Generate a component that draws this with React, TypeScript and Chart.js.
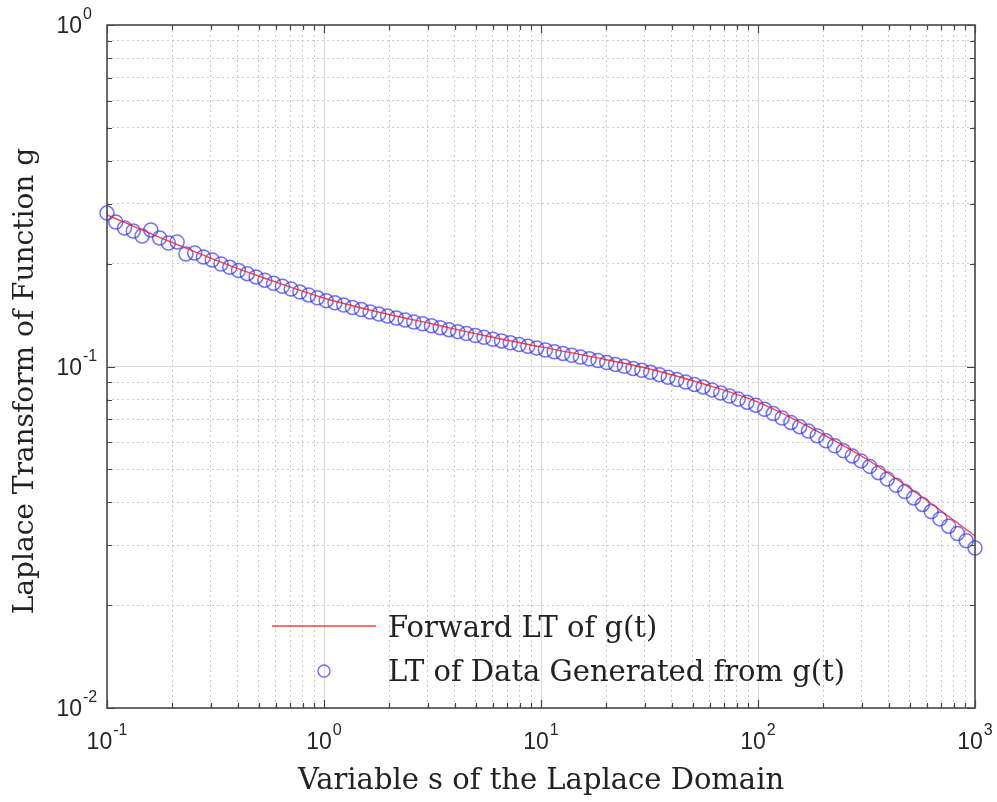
import { useEffect, useRef } from "react";
import { Chart, registerables } from "chart.js";

Chart.register(...registerables);

// s values (Laplace variable) of the sampled data, log-spaced from 0.1 to 1000
const sValues = [
  0.1, 0.10975, 0.12045, 0.13219, 0.14508, 0.15923, 0.17475, 0.19179, 0.21049, 0.23101,
  0.25354, 0.27826, 0.30539, 0.33516, 0.36784, 0.4037, 0.44306, 0.48626, 0.53367, 0.5857,
  0.64281, 0.70548, 0.77426, 0.84975, 0.9326, 1.0235, 1.1233, 1.2328, 1.353, 1.485,
  1.6298, 1.7886, 1.963, 2.1544, 2.3645, 2.595, 2.848, 3.1257, 3.4305, 3.7649,
  4.132, 4.5349, 4.977, 5.4623, 5.9948, 6.5793, 7.2208, 7.9248, 8.6975, 9.5455,
  10.476, 11.498, 12.619, 13.849, 15.199, 16.681, 18.307, 20.092, 22.051, 24.201,
  26.561, 29.151, 31.993, 35.112, 38.535, 42.292, 46.416, 50.941, 55.908, 61.359,
  67.342, 73.907, 81.113, 89.022, 97.701, 107.23, 117.68, 129.15, 141.75, 155.57,
  170.74, 187.38, 205.65, 225.7, 247.71, 271.86, 298.37, 327.46, 359.38, 394.42,
  432.88, 475.08, 521.4, 572.24, 628.03, 689.26, 756.46, 830.21, 911.16, 1000,
];

// LT of data generated from g(t) (blue circles)
const dataValues = [
  0.2814, 0.2649, 0.2544, 0.2493, 0.241, 0.251, 0.2378, 0.2299, 0.2315, 0.2135,
  0.215, 0.2093, 0.205, 0.1996, 0.1952, 0.191, 0.187, 0.1829, 0.179, 0.1752,
  0.1718, 0.1685, 0.1652, 0.162, 0.1589, 0.1559, 0.1537, 0.1513, 0.1489, 0.1468,
  0.1445, 0.1424, 0.1405, 0.1386, 0.1369, 0.135, 0.1334, 0.1316, 0.1299, 0.1282,
  0.1265, 0.1249, 0.1232, 0.1217, 0.1202, 0.1188, 0.1173, 0.1159, 0.1146, 0.1132,
  0.1118, 0.1105, 0.1092, 0.1079, 0.1066, 0.1053, 0.1041, 0.1027, 0.1014, 0.1001,
  0.09872, 0.09747, 0.09616, 0.09462, 0.09305, 0.09154, 0.09008, 0.08863, 0.08715, 0.08541,
  0.08364, 0.08196, 0.08026, 0.07861, 0.07704, 0.07494, 0.07279, 0.07067, 0.0686, 0.06664,
  0.06469, 0.06268, 0.06059, 0.05859, 0.05664, 0.05473, 0.05292, 0.05099, 0.04887, 0.04684,
  0.04489, 0.04302, 0.04123, 0.03946, 0.03759, 0.03579, 0.03407, 0.03243, 0.03089, 0.02941,
];

// Forward LT of g(t) (red line)
const lineS = [
  0.1, 0.1778, 0.3162, 0.5623, 1, 1.778, 3.162, 5.623, 10, 17.78, 31.62, 56.23, 100, 177.8,
  316.2, 562.3, 1000,
];
const lineValues = [
  0.2777, 0.2378, 0.205, 0.1792, 0.1587, 0.1444, 0.1332, 0.1228, 0.1141, 0.1063, 0.09833,
  0.08888, 0.0787, 0.06583, 0.05359, 0.04177, 0.03189,
];

const xTickValues = [
  0.1, 0.2, 0.3, 0.4, 0.5, 0.6, 0.7, 0.8, 0.9,
  1, 2, 3, 4, 5, 6, 7, 8, 9,
  10, 20, 30, 40, 50, 60, 70, 80, 90,
  100, 200, 300, 400, 500, 600, 700, 800, 900, 1000,
];
const yTickValues = [
  0.01, 0.02, 0.03, 0.04, 0.05, 0.06, 0.07, 0.08, 0.09,
  0.1, 0.2, 0.3, 0.4, 0.5, 0.6, 0.7, 0.8, 0.9, 1,
];
const xLabelExponents = [-1, 0, 1, 2, 3];
const yLabelExponents = [-2, -1, 0];

const xTitle = "Variable s of the Laplace Domain";
const yTitle = "Laplace Transform of Function g";
const legendLabels = ["Forward LT of g(t)", "LT of Data Generated from g(t)"];

const isMajor = (v: number | undefined) => {
  if (v === undefined || v === null) return false;
  const l = Math.log10(v);
  return Math.abs(l - Math.round(l)) < 1e-6;
};

const TICK_FONT = '23px "Liberation Sans", Arial, sans-serif';
const SUP_FONT = '16px "Liberation Sans", Arial, sans-serif';
const TITLE_FONT = '29px "DejaVu Serif", serif';
const TEXT_COLOR = "#262626";
const BLUE = "rgba(45, 45, 255, 0.68)";
const RED = "rgba(255, 30, 30, 0.85)";

const framePlugin = {
  id: "matlabFrame",
  afterDraw(chart: any) {
    const ctx: CanvasRenderingContext2D = chart.ctx;
    const { left, top, right, bottom } = chart.chartArea;
    const xs = chart.scales.x;
    const ys = chart.scales.y;
    ctx.save();

    // tick marks (inward, on all four sides)
    ctx.strokeStyle = "#444";
    ctx.lineWidth = 1.2;
    ctx.beginPath();
    xTickValues.forEach((v) => {
      const px = Math.round(xs.getPixelForValue(v)) + 0.5;
      const len = isMajor(v) ? 8 : 5;
      ctx.moveTo(px, bottom);
      ctx.lineTo(px, bottom - len);
      ctx.moveTo(px, top);
      ctx.lineTo(px, top + len);
    });
    yTickValues.forEach((v) => {
      const py = Math.round(ys.getPixelForValue(v)) + 0.5;
      const len = isMajor(v) ? 8 : 5;
      ctx.moveTo(left, py);
      ctx.lineTo(left + len, py);
      ctx.moveTo(right, py);
      ctx.lineTo(right - len, py);
    });
    ctx.stroke();

    // frame
    ctx.strokeStyle = "#4a4a4a";
    ctx.lineWidth = 1.6;
    ctx.strokeRect(left, top, right - left, bottom - top);

    // tick labels
    ctx.fillStyle = TEXT_COLOR;
    ctx.textBaseline = "alphabetic";
    ctx.textAlign = "left";
    xLabelExponents.forEach((e) => {
      const px = xs.getPixelForValue(Math.pow(10, e));
      const sup = String(e);
      ctx.font = TICK_FONT;
      const wb = ctx.measureText("10").width;
      ctx.font = SUP_FONT;
      const ws = ctx.measureText(sup).width;
      const x0 = px - (wb + ws + 1) / 2;
      ctx.font = TICK_FONT;
      ctx.fillText("10", x0, 749);
      ctx.font = SUP_FONT;
      ctx.fillText(sup, x0 + wb + 1, 735);
    });
    yLabelExponents.forEach((e) => {
      const py = ys.getPixelForValue(Math.pow(10, e));
      const sup = String(e);
      ctx.font = TICK_FONT;
      const wb = ctx.measureText("10").width;
      const xr = 82;
      ctx.fillText("10", xr - wb, py + 8);
      ctx.font = SUP_FONT;
      ctx.fillText(sup, xr + 1, py - 6);
    });

    // axis titles
    ctx.font = TITLE_FONT;
    ctx.fillStyle = "#222";
    ctx.textAlign = "center";
    ctx.fillText(xTitle, (left + right) / 2, 789);
    ctx.save();
    ctx.translate(33, 381);
    ctx.rotate(-Math.PI / 2);
    ctx.font = '28px "DejaVu Serif", serif';
    ctx.fillText(yTitle, 0, 0);
    ctx.restore();

    // legend (no box)
    ctx.strokeStyle = RED;
    ctx.lineWidth = 1.4;
    ctx.beginPath();
    ctx.moveTo(272, 626);
    ctx.lineTo(376, 626);
    ctx.stroke();
    ctx.strokeStyle = BLUE;
    ctx.lineWidth = 1.5;
    ctx.beginPath();
    ctx.arc(324, 671, 6, 0, Math.PI * 2);
    ctx.stroke();
    ctx.font = TITLE_FONT;
    ctx.fillStyle = "#222";
    ctx.textAlign = "left";
    ctx.fillText(legendLabels[0], 388, 637);
    ctx.fillText(legendLabels[1], 388, 681);

    ctx.restore();
  },
};

export default function App() {
  const canvasRef = useRef<HTMLCanvasElement | null>(null);

  useEffect(() => {
    if (!canvasRef.current) return;
    const chart = new Chart(canvasRef.current, {
      type: "scatter",
      data: {
        datasets: [
          {
            label: legendLabels[0],
            data: lineS.map((s, i) => ({ x: s, y: lineValues[i] })),
            showLine: true,
            borderColor: RED,
            borderWidth: 1.4,
            pointRadius: 0,
            cubicInterpolationMode: "monotone",
            fill: false,
          } as any,
          {
            label: legendLabels[1],
            data: sValues.map((s, i) => ({ x: s, y: dataValues[i] })),
            showLine: false,
            pointStyle: "circle",
            pointRadius: 7,
            pointBorderWidth: 1.5,
            pointBorderColor: BLUE,
            pointBackgroundColor: "rgba(0,0,0,0)",
            borderColor: BLUE,
            backgroundColor: "rgba(0,0,0,0)",
            clip: false,
          } as any,
        ],
      },
      options: {
        animation: false,
        responsive: false,
        maintainAspectRatio: false,
        devicePixelRatio: 1,
        events: [],
        layout: { padding: { left: 107, top: 25, right: 22, bottom: 94 } },
        plugins: {
          legend: { display: false },
          tooltip: { enabled: false },
          title: { display: false },
        },
        scales: {
          x: {
            type: "logarithmic",
            min: 0.1,
            max: 1000,
            afterBuildTicks: (axis: any) => {
              axis.ticks = xTickValues.map((v) => ({ value: v, major: isMajor(v) }));
            },
            ticks: { display: false },
            title: { display: false },
            border: {
              display: false,
              dash: (c: any) => (c.tick && !isMajor(c.tick.value) ? [2, 3] : []),
            },
            grid: {
              drawTicks: false,
              color: (c: any) => (c.tick && isMajor(c.tick.value) ? "#d9d9d9" : "#cbcbcb"),
              lineWidth: 1,
            },
          },
          y: {
            type: "logarithmic",
            min: 0.01,
            max: 1,
            afterBuildTicks: (axis: any) => {
              axis.ticks = yTickValues.map((v) => ({ value: v, major: isMajor(v) }));
            },
            ticks: { display: false },
            title: { display: false },
            border: {
              display: false,
              dash: (c: any) => (c.tick && !isMajor(c.tick.value) ? [2, 3] : []),
            },
            grid: {
              drawTicks: false,
              color: (c: any) => (c.tick && isMajor(c.tick.value) ? "#d9d9d9" : "#cbcbcb"),
              lineWidth: 1,
            },
          },
        },
      } as any,
      plugins: [framePlugin],
    });
    return () => chart.destroy();
  }, []);

  return (
    <div style={{ position: "absolute", left: 0, top: 0, width: 997, height: 802, background: "#fff" }}>
      <canvas ref={canvasRef} width={997} height={802} style={{ display: "block" }} />
    </div>
  );
}
